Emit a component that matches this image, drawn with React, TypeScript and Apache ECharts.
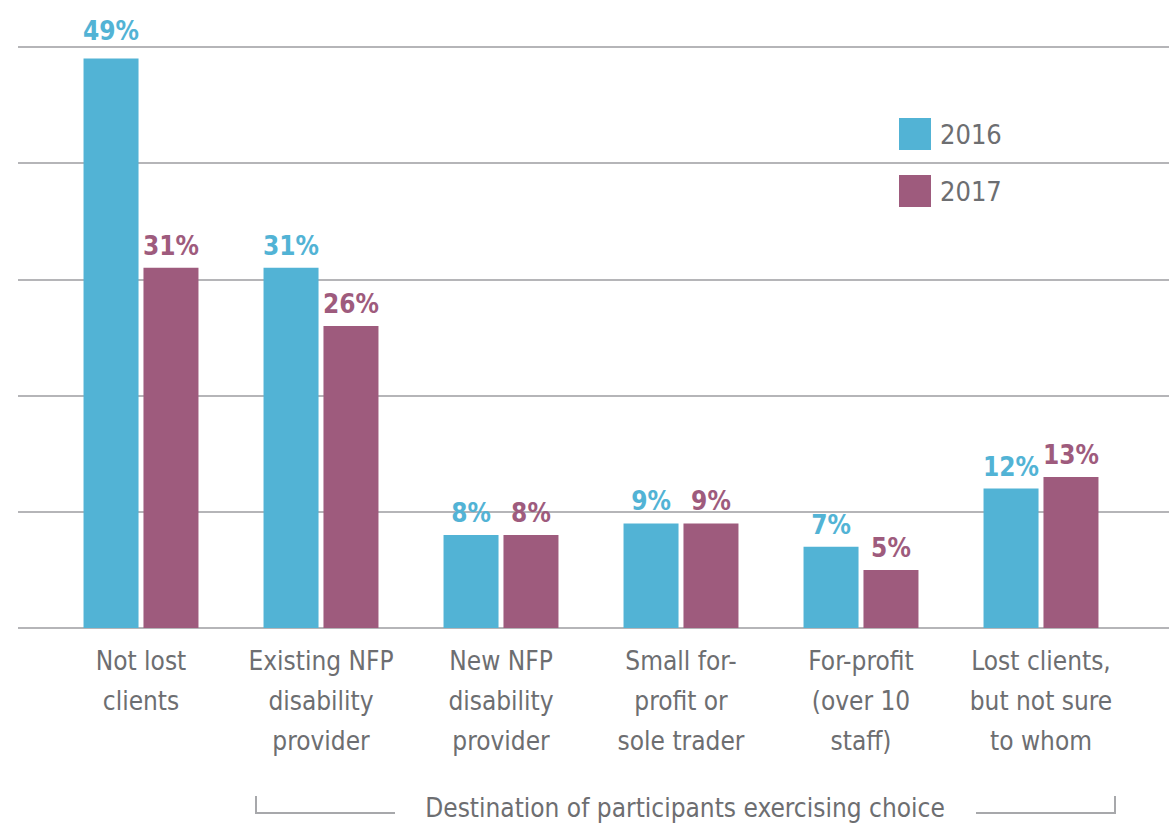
import React, { useEffect, useRef } from "react";
import * as echarts from "echarts";

const categories = [
  "Not lost\nclients",
  "Existing NFP\ndisability\nprovider",
  "New NFP\ndisability\nprovider",
  "Small for-\nprofit or\nsole trader",
  "For-profit\n(over 10\nstaff)",
  "Lost clients,\nbut not sure\nto whom",
];
const values2016 = [49, 31, 8, 9, 7, 12];
const values2017 = [31, 26, 8, 9, 5, 13];
const seriesNames = ["2016", "2017"];
const yTicks = { min: 0, max: 50, interval: 10 };
const axisTitle = "Destination of participants exercising choice";

const BLUE = "#52b3d5";
const PURPLE = "#9e5b7d";
const GRID = "#b5b5b8";
const TEXT = "#6d6e71";
const FONT = "'Liberation Sans Narrow', 'DejaVu Sans Condensed', 'Roboto', sans-serif";

export default function App() {
  const ref = useRef<HTMLDivElement>(null);
  useEffect(() => {
    document.body.style.margin = "0";
    const chart = echarts.init(ref.current!, null, { renderer: "svg" });
    const mkData = (vals: number[]) =>
      vals.map((v, i) =>
        i === 0 && v > 45 ? { value: v, label: { distance: 15 } } : { value: v }
      );
    const valueLabel = (color: string) => ({
      show: true,
      position: "top",
      distance: 9,
      formatter: "{c}%",
      fontFamily: FONT,
      fontWeight: "bold",
      fontSize: 26,
      color,
    });
    chart.setOption({
      animation: false,
      textStyle: { fontFamily: FONT },
      legend: {
        data: seriesNames,
        orient: "vertical",
        left: 899,
        top: 118,
        padding: 0,
        itemWidth: 32,
        itemHeight: 32,
        itemGap: 25,
        icon: "rect",
        textStyle: { fontFamily: FONT, fontSize: 27, color: TEXT, padding: [0, 0, 0, 4] },
      },
      grid: [
        { left: 51, right: 38, top: 47, bottom: 195 },
        { left: 18, right: 0, top: 47, bottom: 195 },
      ],
      xAxis: [
        {
          type: "category",
          gridIndex: 0,
          data: categories,
          axisLine: { show: false },
          axisTick: { show: false },
          axisLabel: {
            interval: 0,
            margin: 13,
            fontFamily: FONT,
            fontSize: 26,
            lineHeight: 40,
            color: TEXT,
          },
        },
        { type: "category", gridIndex: 1, data: [""], show: false },
      ],
      yAxis: [
        { type: "value", gridIndex: 0, ...yTicks, show: false, splitLine: { show: false } },
        {
          type: "value",
          gridIndex: 1,
          ...yTicks,
          axisLine: { show: false },
          axisTick: { show: false },
          axisLabel: { show: false },
          splitLine: { show: true, lineStyle: { color: GRID, width: 2 } },
        },
      ],
      series: [
        {
          name: seriesNames[0],
          type: "bar",
          xAxisIndex: 0,
          yAxisIndex: 0,
          data: mkData(values2016),
          barWidth: 55,
          barGap: "9%",
          itemStyle: { color: BLUE },
          label: valueLabel(BLUE),
        },
        {
          name: seriesNames[1],
          type: "bar",
          xAxisIndex: 0,
          yAxisIndex: 0,
          data: mkData(values2017),
          barWidth: 55,
          barGap: "9%",
          itemStyle: { color: PURPLE },
          label: valueLabel(PURPLE),
        },
      ],
      graphic: [
        {
          type: "polyline",
          shape: { points: [[256, 796], [256, 813], [395, 813]] },
          style: { stroke: "#a7a8ab", lineWidth: 2, fill: null },
        },
        {
          type: "polyline",
          shape: { points: [[976, 813], [1115, 813], [1115, 796]] },
          style: { stroke: "#a7a8ab", lineWidth: 2, fill: null },
        },
        {
          type: "text",
          x: 685,
          y: 808,
          style: {
            text: axisTitle,
            fontFamily: FONT,
            fontSize: 26,
            fill: TEXT,
            align: "center",
            verticalAlign: "middle",
          },
        },
      ],
    });
    return () => chart.dispose();
  }, []);
  return <div ref={ref} style={{ width: 1169, height: 823 }} />;
}
